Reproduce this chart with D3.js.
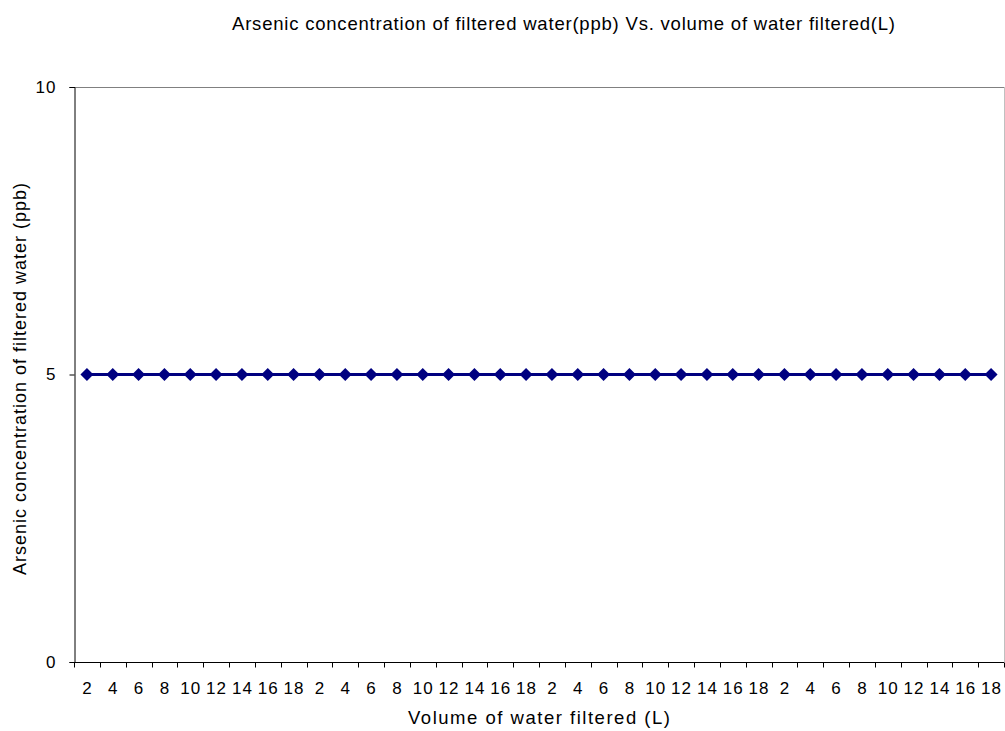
<!DOCTYPE html>
<html><head><meta charset="utf-8">
<script src="https://cdn.jsdelivr.net/npm/d3@7"></script>
<style>body{margin:0;background:#fff}svg{display:block}text{font-family:"Liberation Sans",Arial,sans-serif}</style>
</head><body>
<script>
const categories = [2,4,6,8,10,12,14,16,18,2,4,6,8,10,12,14,16,18,2,4,6,8,10,12,14,16,18,2,4,6,8,10,12,14,16,18];
const arsenic = [5,5,5,5,5,5,5,5,5,5,5,5,5,5,5,5,5,5,5,5,5,5,5,5,5,5,5,5,5,5,5,5,5,5,5,5];
const yTicks = [0,5,10];
const title = "Arsenic concentration of filtered water(ppb) Vs. volume of water filtered(L)";
const xTitle = "Volume of water filtered (L)";
const yTitle = "Arsenic concentration of filtered water (ppb)";

const W = 1005, H = 731;
const m = {left:74, right:1004, top:87, bottom:662};
const svg = d3.select("body").append("svg").attr("width",W).attr("height",H);
const idx = categories.map((d,i)=>i);
const x = d3.scaleBand().domain(idx).range([m.left,m.right]).padding(0);
const y = d3.scaleLinear().domain([0,10]).range([m.bottom,m.top]);

function fit(sel, target){
  const n = sel.text().length;
  const w = sel.node().getComputedTextLength();
  sel.attr("letter-spacing", (target - w)/(n-1));
}

svg.append("line").attr("x1",m.left).attr("x2",m.right).attr("y1",m.top+0.5).attr("y2",m.top+0.5).attr("stroke","#808080");
svg.append("line").attr("x1",m.right+0.5).attr("x2",m.right+0.5).attr("y1",m.top).attr("y2",m.bottom).attr("stroke","#c0c0c0");

const ya = svg.append("g").attr("transform",`translate(${m.left+0.5},0)`)
  .call(d3.axisLeft(y).tickValues(yTicks).tickSize(5).tickPadding(13).tickFormat(d3.format("d")));
ya.select(".domain").attr("stroke","#000");
ya.selectAll(".tick line").attr("stroke","#000");
ya.selectAll("text").attr("font-size",17).attr("fill","#000").attr("letter-spacing",1)
  .attr("font-family","Liberation Sans, Arial, sans-serif");

const xa = svg.append("g").attr("transform",`translate(0,${m.bottom+0.5})`);
xa.append("line").attr("x1",m.left).attr("x2",m.right).attr("stroke","#000");
const bounds = idx.map(i=>x(i)).concat([m.right]);
xa.selectAll("line.tk").data(bounds).join("line").attr("class","tk")
  .attr("x1",d=>Math.round(d)+0.5).attr("x2",d=>Math.round(d)+0.5).attr("y1",0).attr("y2",5).attr("stroke","#000");
xa.selectAll("text").data(idx).join("text")
  .attr("x",i=>x(i)+x.bandwidth()/2+0.5).attr("y",31).attr("text-anchor","middle")
  .attr("font-size",17).attr("letter-spacing",1).attr("fill","#000").text(i=>categories[i]);

const line = d3.line().x((d,i)=>x(i)+x.bandwidth()/2).y(d=>y(d));
svg.append("path").datum(arsenic).attr("d",line).attr("fill","none").attr("stroke","#000080").attr("stroke-width",3);
svg.selectAll("path.pt").data(arsenic).join("path").attr("class","pt")
  .attr("transform",(d,i)=>`translate(${x(i)+x.bandwidth()/2},${y(d)})`)
  .attr("d","M0,-6.5L6.5,0L0,6.5L-6.5,0Z").attr("fill","#000080");

const t1 = svg.append("text").attr("x",232).attr("y",30).attr("font-size",18.5).text(title);
fit(t1, 663);
const t2 = svg.append("text").attr("x",408).attr("y",724).attr("font-size",18.5).text(xTitle);
fit(t2, 262);
const t3 = svg.append("text").attr("transform",`translate(26,575) rotate(-90)`).attr("font-size",18).text(yTitle);
fit(t3, 392);
</script>
</body></html>
